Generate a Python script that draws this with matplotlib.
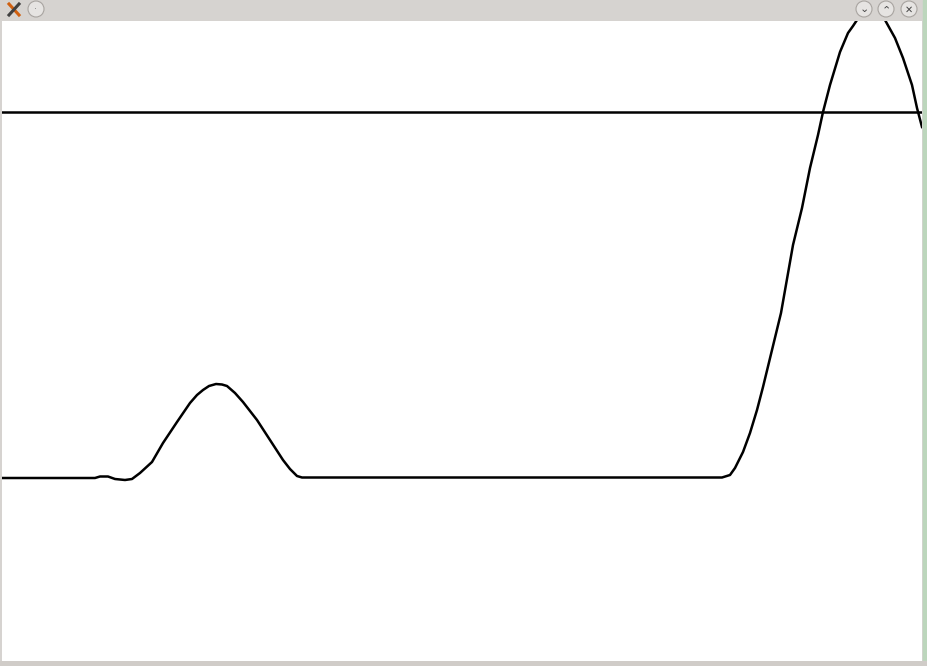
import matplotlib as mpl
mpl.use("Agg")
import matplotlib.pyplot as plt
from matplotlib.patches import Circle, Rectangle

# Curve, in screen pixels (x right, y down).
curve_x = [0, 60, 95, 100, 108, 115, 125, 132, 140, 152, 163, 177, 190, 197,
           203, 209, 216, 222, 227, 235, 243, 257, 270, 283, 290, 297, 302,
           307, 400, 500, 600, 700, 722, 730, 735, 743, 750, 757, 763, 772,
           781, 793, 802, 810, 818, 823, 830, 840, 848, 853, 857, 864, 871,
           878, 885, 895, 903, 912, 917, 922]
curve_y = [478, 478, 478, 476.5, 476.5, 479, 480, 479, 473, 462, 443, 422,
           403, 395, 390, 386, 384, 384.5, 386, 393, 402, 420, 440, 460, 469,
           476, 477.5, 477.5, 477.5, 477.5, 477.5, 477.5, 477.5, 475, 468,
           452, 433, 410, 387, 350, 313, 245, 208, 168, 135, 112, 85, 52, 33,
           26, 20, 12, 9, 12, 20, 38, 58, 85, 108, 127]
level_y = 112

W, H = 927, 666
fig = plt.figure(figsize=(W / 100, H / 100), dpi=100)
fig.patch.set_facecolor("#d6d3d0")

# right green strip and bottom strip of the desktop
fig.add_artist(Rectangle((923 / W, 0), 4 / W, 1, transform=fig.transFigure,
                         color="#bcd6bc", zorder=0))
fig.add_artist(Rectangle((0, 0), 1, 5 / H, transform=fig.transFigure,
                         color="#d0ccc8", zorder=0))

# title bar buttons
bar = fig.add_axes([0, 1 - 21 / H, 1, 21 / H])
bar.set_xlim(0, W)
bar.set_ylim(21, 0)
bar.axis("off")
for cx in [36, 864, 886, 909]:
    bar.add_patch(Circle((cx, 9), 8, facecolor="#e6e4e2", edgecolor="#a8a4a0", lw=0.8))
bar.text(36, 9.5, "·", ha="center", va="center", fontsize=7, color="#888888")
bar.text(864, 9.5, "⌄", ha="center", va="center", fontsize=8, color="#444444")
bar.text(886, 10, "⌃", ha="center", va="center", fontsize=8, color="#444444")
bar.text(909, 9.5, "✕", ha="center", va="center", fontsize=7, color="#444444")
bar.plot([9, 19], [4, 15], color="#d06010", lw=2.2)
bar.plot([19, 9], [4, 15], color="#404040", lw=2.2)

# the white drawing area
ax = fig.add_axes([2 / W, 5 / H, 920 / W, 640 / H])
ax.set_facecolor("white")
ax.set_xlim(2, 922)
ax.set_ylim(661, 21)
ax.axhline(level_y, color="black", lw=1.8)
ax.plot(curve_x, curve_y, color="black", lw=1.8, solid_joinstyle="round")
for s in ax.spines.values():
    s.set_visible(False)
ax.set_xticks([])
ax.set_yticks([])

plt.savefig("out.png", dpi=100, facecolor=fig.get_facecolor())
